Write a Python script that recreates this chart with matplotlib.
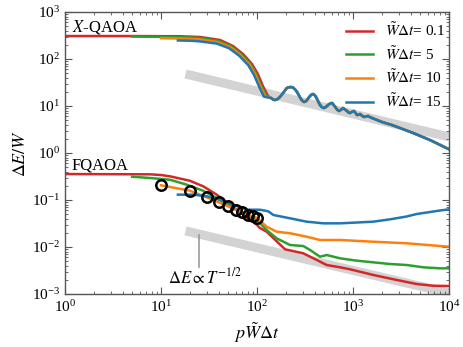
import matplotlib
matplotlib.use("Agg")
from matplotlib import pyplot as plt
import numpy as np

plt.rcParams['font.family'] = 'serif'
plt.rcParams['font.serif'] = ['Liberation Serif', 'DejaVu Serif']
plt.rcParams['mathtext.fontset'] = 'stix'

# colours of the four W~dt series
c_red, c_green, c_orange, c_blue = '#d62728', '#2ca02c', '#ff7f0e', '#1f77b4'
labels = [r'$\tilde{W}\Delta t$= 0.1', r'$\tilde{W}\Delta t$= 5',
          r'$\tilde{W}\Delta t$= 10', r'$\tilde{W}\Delta t$= 15']

# ---- X-QAOA: heads differ, oscillating tails coincide
xq_red_x = [1, 5, 10, 15.8, 25.5, 41.2, 56.2, 71.4, 88.7, 102, 115, 130]
xq_red_y = [308, 308, 306, 305, 294, 254, 189, 128, 78, 48, 26.7, 16.3]
xq_green_x = [5, 10, 16, 25, 40, 54.5, 69, 86, 98.5, 111, 126]
xq_green_y = [300, 296, 292, 282, 242, 184, 125, 77, 47, 26.5, 16]
xq_orange_x = [10, 16, 25, 39, 53, 67, 83.5, 96, 108, 122]
xq_orange_y = [277, 272, 262, 228, 178, 122, 76, 47, 26.5, 16]
xq_blue_x = [15, 20, 25, 38, 51, 65, 81, 93, 105, 118]
xq_blue_y = [248, 245, 238, 213, 170, 118, 74, 46, 26, 15.8]
xq_tail_x = [140, 147, 154, 161, 169, 178, 187, 196, 205, 213, 221, 229, 237,
             249, 261, 274, 287, 298, 309, 320, 332, 344, 357, 370, 383, 397,
             412, 432, 453, 476, 499, 524, 550, 577, 604, 634, 665, 690, 715,
             750, 787, 826, 866, 897, 930, 976, 1024, 1062, 1101, 1141, 1183,
             1242, 1303, 1367, 1433, 1505, 1577, 2004, 2547, 3090, 4217, 6340,
             10000]
xq_tail_y = [14.8, 13.8, 13.4, 13.8, 14.8, 16.6, 18.9, 21.6, 24.2, 25.0, 25.3,
             25.2, 24.8, 22.5, 19.9, 16.6, 14.1, 12.8, 12.2, 12.5, 13.4, 14.9,
             16.3, 17.5, 18.0, 17.2, 15.5, 12.8, 10.5, 9.4, 9.06, 9.6, 10.5,
             11.3, 11.6, 10.3, 9.06, 8.2, 7.83, 8.3, 9.06, 8.4, 7.83, 7.3, 7.10,
             7.5, 7.83, 7.1, 6.44, 6.5, 6.76, 6.2, 5.84, 6.0, 6.13, 5.8, 5.56,
             4.57, 3.94, 3.40, 2.67, 1.89, 1.2]

# ---- FQAOA
fq_red_x = [1, 7.7, 10, 12.4, 20, 27.6, 38, 52.3, 71.9, 99.3, 107, 126, 196,
            303, 386, 532, 732, 930, 1626, 2851, 4610, 6860, 9460, 10000]
fq_red_y = [0.357, 0.352, 0.34, 0.319, 0.257, 0.195, 0.130, 0.0794, 0.0486,
            0.0298, 0.0254, 0.0212, 0.00893, 0.00735, 0.00575, 0.00414,
            0.00370, 0.00336, 0.00254, 0.00199, 0.00163, 0.00150, 0.00148,
            0.00148]
fq_green_x = [5, 7.7, 12.4, 18.5, 27.4, 38, 52.3, 71.5, 99.3, 126, 160, 221,
              303, 357, 453, 532, 732, 1093, 1626, 2428, 3623, 5400, 8054, 10000]
fq_green_y = [0.313, 0.294, 0.270, 0.212, 0.158, 0.110, 0.0734, 0.0529, 0.0381,
              0.0230, 0.0153, 0.01104, 0.0105, 0.00863, 0.00622, 0.00676,
              0.00575, 0.00512, 0.00472, 0.00435, 0.00414, 0.00370, 0.00352,
              0.00352]
fq_orange_x = [10, 20, 30, 40, 50, 60, 70, 80, 90, 100, 126, 160, 221, 329,
               453, 732, 1615, 3623, 8054, 10000]
fq_orange_y = [0.2056, 0.158, 0.114, 0.0893, 0.0734, 0.0622, 0.0547, 0.0486,
               0.045, 0.0414, 0.0270, 0.0212, 0.0196, 0.01656, 0.0141, 0.0141,
               0.01297, 0.0120, 0.0105, 0.01014]
fq_blue_x = [15, 21.7, 29.9, 41.2, 56.6, 78.1, 107, 131, 148, 221, 329, 491,
             732, 1093, 1626, 2428, 3623, 4610, 5860, 8054, 10000]
fq_blue_y = [0.130, 0.130, 0.120, 0.1015, 0.0794, 0.0622, 0.0622, 0.0575,
             0.048, 0.0408, 0.0346, 0.0319, 0.0319, 0.0332, 0.0346, 0.0388,
             0.0446, 0.0504, 0.0542, 0.0598, 0.0634]

# p = 1..10 at W~dt = 10
circ_x = fq_orange_x[:10]
circ_y = fq_orange_y[:10]

# T^-1/2 guide bands
band_x = [18, 10000]
band_up_y = [48, 2.2]
band_lo_y = [0.022, 0.00105]

fig = plt.figure(figsize=(4.63, 3.47), dpi=100)
ax = fig.add_axes([0.1404, 0.1527, 0.8294, 0.8127])

ax.plot(band_x, band_up_y, color='#d3d3d3', lw=6.5, solid_capstyle='butt', zorder=1)
ax.plot(band_x, band_lo_y, color='#d3d3d3', lw=6.5, solid_capstyle='butt', zorder=1)

lw = 1.8
ax.plot(xq_red_x + xq_tail_x, xq_red_y + xq_tail_y, color=c_red, lw=lw, label=labels[0])
ax.plot(xq_green_x + xq_tail_x, xq_green_y + xq_tail_y, color=c_green, lw=lw, label=labels[1])
ax.plot(xq_orange_x + xq_tail_x, xq_orange_y + xq_tail_y, color=c_orange, lw=lw, label=labels[2])
ax.plot(xq_blue_x + xq_tail_x, xq_blue_y + xq_tail_y, color=c_blue, lw=lw, label=labels[3])

ax.plot(fq_red_x, fq_red_y, color=c_red, lw=lw)
ax.plot(fq_green_x, fq_green_y, color=c_green, lw=lw)
ax.plot(fq_orange_x, fq_orange_y, color=c_orange, lw=lw)
ax.plot(fq_blue_x, fq_blue_y, color=c_blue, lw=lw)
ax.plot(circ_x, circ_y, 'o', ms=7.5, mfc='none', mec='black', mew=1.8, zorder=5)

# annotation for the lower band
ax.plot([25, 25], [0.018, 0.0038], color='#999999', lw=1.2)
ax.text(29, 0.0023, r'$\Delta E \propto T^{-1/2}$', ha='center', va='center', fontsize=12)

ax.text(1.18, 480, r'$X$-QAOA', ha='left', va='center', fontsize=12)
ax.text(1.18, 0.53, 'FQAOA', ha='left', va='center', fontsize=12)

ax.set_xscale('log')
ax.set_yscale('log')
ax.set_xlim(1, 1e4)
ax.set_ylim(1e-3, 1e3)
ax.set_xlabel(r'$p\tilde{W}\Delta t$', fontsize=13, labelpad=4)
ax.set_ylabel(r'$\Delta E/W$', fontsize=13, labelpad=2)

frame = '#555555'
for s in ax.spines.values():
    s.set_color(frame)
    s.set_linewidth(1.0)
ax.tick_params(which='both', direction='in', top=True, right=True, color=frame, labelsize=11)
ax.tick_params(which='major', length=5)
ax.tick_params(which='minor', length=2.5)
ax.yaxis.set_major_locator(matplotlib.ticker.LogLocator(base=10, numticks=10))
ax.yaxis.set_minor_locator(matplotlib.ticker.LogLocator(base=10, subs=np.arange(2, 10), numticks=10))

ax.legend(loc='upper left', bbox_to_anchor=(0.695, 1.015), frameon=False, fontsize=11,
          handlelength=1.8, handletextpad=0.8, labelspacing=0.38)

fig.savefig('out.png', dpi=100)
